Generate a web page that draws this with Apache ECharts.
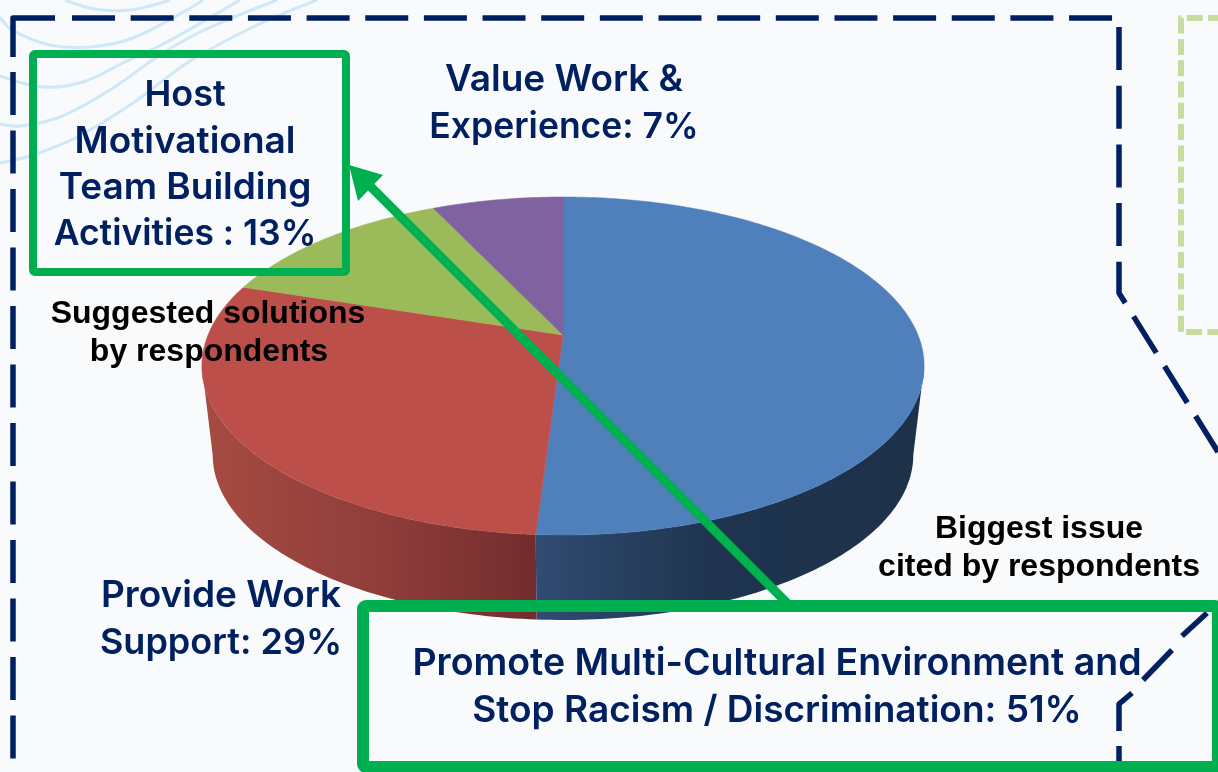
<!DOCTYPE html>
<html><head><meta charset="utf-8">
<style>html,body{margin:0;padding:0;background:#F9FAFC}#c{width:1218px;height:772px}</style>
<script src="https://cdn.jsdelivr.net/npm/echarts@6/dist/echarts.min.js"></script>
</head><body><div id="c"></div>
<script>
// Data
const categories = ['Promote Multi-Cultural Environment and Stop Racism / Discrimination', 'Provide Work Support', 'Host Motivational Team Building Activities', 'Value Work & Experience'];
const values = [51, 29, 13, 7];
const topColors = ['#4F80BC', '#BD4F4B', '#9BBA5A', '#7F629F'];
const wallStops = [
  [[0,'#304C72'],[0.45,'#1F344F'],[1,'#1D3149']],
  [[0,'#A64B42'],[0.55,'#8F3D3A'],[1,'#722C2D']],
  [[0,'#7A8F45'],[1,'#7A8F45']],
  [[0,'#5F4A78'],[1,'#5F4A78']]
];

// Pie projection
const apex = [563, 335], halfW = 355, backDrop = 101.9, persp = 0.1834;
const floorDy = [366, 455], floorK = [0.97, 0.976];
function rim(frac) {
  const t = frac * 2 * Math.PI, u = Math.sin(t), v = Math.cos(t), w = 1 + persp * v;
  return [apex[0] + halfW * u / w, (apex[1] - backDrop * v) / w];
}
function floor(p) {
  return [apex[0] + (p[0] - apex[0]) * floorK[0], floorDy[1] + (p[1] - floorDy[0]) * floorK[1]];
}
const total = values.reduce((a, b) => a + b, 0);
// part of the outer rim that faces the viewer (between the widest points of the ellipse)
const frontFrom = Math.acos(-persp) / (2 * Math.PI), frontTo = 1 - frontFrom;
let run = 0;
const sliceData = values.map((v, i) => { const d = [v, run, i]; run += v; return { name: categories[i], value: d }; });
function arc(a, b) {
  const n = Math.max(2, Math.ceil((b - a) * 360)), out = [];
  for (let k = 0; k <= n; k++) out.push(rim(a + (b - a) * k / n));
  return out;
}
function renderTop(params, api) {
  const v = api.value(0), s = api.value(1), i = api.value(2);
  return { type: 'polygon', shape: { points: [apex].concat(arc(s / total, (s + v) / total)) },
    style: { fill: topColors[i], stroke: topColors[i], lineWidth: 0.5 } };
}
function renderWall(params, api) {
  const v = api.value(0), s = api.value(1), i = api.value(2);
  const from = Math.max(s / total, frontFrom), to = Math.min((s + v) / total, frontTo);
  if (to <= from) return null;
  const a = arc(from, to), b = a.map(floor).reverse();
  return { type: 'polygon', shape: { points: a.concat(b) },
    style: { fill: { type: 'linear', x: 0, y: 0, x2: 1, y2: 0,
      colorStops: wallStops[i].map(c => ({ offset: c[0], color: c[1] })) } } };
}

// Annotations
const navy = '#002060', green = '#00AF50', paleGreen = '#C9DCA0', wave = '#CFE8F8';
const noteFont = 'bold 32px "Liberation Sans"';
const headLines = [
  ['Host', 185, 95, 36], ['Motivational', 185, 142, 37], ['Team Building', 185, 188, 37], ['Activities : 13%', 185, 234, 35.5],
  ['Value Work &', 564, 80, 37], ['Experience: 7%', 564, 127, 35.5],
  ['Provide Work', 221, 596, 37], ['Support: 29%', 221, 643, 36],
  ['Promote Multi-Cultural Environment and', 777, 664, 37.5], ['Stop Racism / Discrimination: 51%', 777, 711, 37]
];
const noteLines = [
  ['Suggested solutions', 208, 314], ['by respondents', 209, 352],
  ['Biggest issue', 1039, 529], ['cited by respondents', 1039, 567]
];
const wavePaths = [
  [[65,0],[95,9],[130,10],[170,0]],
  [[0,17],[12,30],[50,45],[90,47],[133,38],[187,10],[203,0]],
  [[0,76],[43,87],[83,82],[123,63],[167,42],[240,0]],
  [[0,124],[20,126],[60,117],[110,90],[157,57],[200,32],[277,0]],
  [[0,163],[33,155],[77,137],[133,103],[187,63],[253,27],[317,0]]
];
function text(t, x, y, font, fill) {
  return { type: 'text', z: 20, style: { text: t, x, y, font, fill, align: 'center', verticalAlign: 'middle' } };
}
function line(points, stroke, lineWidth, dash, offset, z) {
  return { type: 'polyline', z: z || 1, shape: { points }, style: { stroke, lineWidth, fill: null,
    lineDash: dash || null, lineDashOffset: offset || 0, lineJoin: 'round' } };
}
const elements = [];
wavePaths.forEach(p => elements.push({ type: 'polyline', z: 0, shape: { points: p, smooth: 0.35 }, style: { stroke: wave, lineWidth: 3, fill: null } }));
elements.push(line([[13,57],[13,18],[55,18]], navy, 5.5));
elements.push(line([[13,72],[13,772]], navy, 5.5, [43, 15.5]));
elements.push(line([[72,18],[1113,18]], navy, 5.5, [43, 15.65]));
elements.push(line([[1119,27],[1119,293],[1218,452]], navy, 5.5, [43, 15.7]));
elements.push(line([[1207,613],[1182,636]], navy, 5.5));
elements.push(line([[1172,650],[1143,680]], navy, 5.5));
elements.push(line([[1132,693],[1119,704],[1119,731]], navy, 5.5));
elements.push(line([[1119,746],[1119,772]], navy, 5.5));
elements.push(line([[1218,18],[1181,18],[1181,332],[1218,332]], paleGreen, 6, [16, 5.3], 6));
elements.push({ type: 'rect', z: 15, shape: { x: 33, y: 54, width: 313, height: 218, r: 2 }, style: { stroke: green, lineWidth: 8, fill: null } });
elements.push({ type: 'rect', z: 15, shape: { x: 363, y: 606, width: 855, height: 161, r: 3 }, style: { stroke: green, lineWidth: 12, fill: null } });
elements.push(line([[787,603],[366,182]], green, 9, null, 0, 16));
elements.push({ type: 'polygon', z: 16, shape: { points: [[349,165],[383,175],[358,201]] }, style: { fill: green } });
headLines.forEach(l => elements.push(text(l[0], l[1], l[2], '600 ' + l[3] + 'px Inter', navy)));
noteLines.forEach(l => elements.push(text(l[0], l[1], l[2], noteFont, '#000')));

const chart = echarts.init(document.getElementById('c'), null, { renderer: 'canvas' });
chart.setOption({
  animation: false,
  backgroundColor: '#F9FAFC',
  series: [
    { type: 'custom', coordinateSystem: 'none', z: 2, silent: true, renderItem: renderWall, data: sliceData },
    { type: 'custom', coordinateSystem: 'none', z: 3, silent: true, renderItem: renderTop, data: sliceData }
  ],
  graphic: { elements }
});
</script></body></html>
